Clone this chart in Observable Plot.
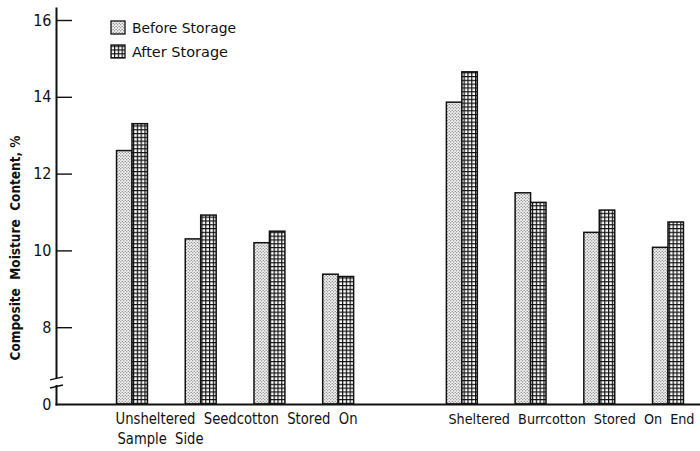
<!DOCTYPE html>
<html><head><meta charset="utf-8">
<script src="https://cdn.jsdelivr.net/npm/d3@7"></script>
<script src="https://cdn.jsdelivr.net/npm/@observablehq/plot@0.6"></script>
<style>
html,body{margin:0;padding:0;background:#fff;}
#chart{position:relative;width:700px;height:451px;}
</style></head><body><div id="chart"></div>
<script>
// ---- data ----
const groups = ["Unsheltered 1","Unsheltered 2","Unsheltered 3","Unsheltered 4","Sheltered 1","Sheltered 2","Sheltered 3","Sheltered 4"];
const beforeStorage = [12.6, 10.3, 10.2, 9.38, 13.86, 11.5, 10.47, 10.08];
const afterStorage  = [13.3, 10.92, 10.5, 9.32, 14.65, 11.25, 11.05, 10.74];
const seriesNames = ["Before Storage", "After Storage"];
const yTicks = [0, 8, 10, 12, 14, 16];
const xLabelLeft = ["Unsheltered  Seedcotton  Stored  On", "Sample  Side"];
const xLabelRight = ["Sheltered  Burrcotton  Stored  On  End"];
const yTitle = "Composite  Moisture  Content, %";

// ---- layout helpers ----
const slot = i => (i < 4 ? i : i + 0.8); // wider gap between the two storage methods
const half = 0.225;
const rows = groups.map((g, i) => ({g, pos: slot(i), before: beforeStorage[i], after: afterStorage[i]}));
const FONT = "'DejaVu Sans Condensed','DejaVu Sans',sans-serif";

const plot = Plot.plot({
  width: 700, height: 451,
  marginLeft: 56, marginRight: 0, marginTop: 8, marginBottom: 47,
  style: {fontFamily: FONT, fontSize: "15px", color: "#111", background: "#fff"},
  x: {type: "linear", domain: [0, 7.8], range: [132, 668], axis: null},
  y: {domain: [6, 16], range: [404, 20], clamp: true, label: null},
  marks: [
    Plot.rect(rows, {x1: d => d.pos - half, x2: d => d.pos, y1: 0, y2: "before",
      fill: "url(#pat-dots)", stroke: "#111", strokeWidth: 1.5}),
    Plot.rect(rows, {x1: d => d.pos, x2: d => d.pos + half, y1: 0, y2: "after",
      fill: "url(#pat-grid)", stroke: "#111", strokeWidth: 1.5}),
    Plot.tickY(yTicks.filter(d => d > 0), {y: d => d, stroke: "#111", strokeWidth: 1.4, insetRight: 700 - 56 - 16}),
    Plot.axisY(yTicks, {tickSize: 0, tickPadding: 5, tickFormat: d => String(d), fontSize: 16, label: null}),
    Plot.frame({anchor: "left", stroke: "#111", strokeWidth: 2}),
    Plot.frame({anchor: "bottom", stroke: "#111", strokeWidth: 2}),
    Plot.text([xLabelLeft[0]], {text: d => d, frameAnchor: "bottom-left", dx: 59, dy: 19, textAnchor: "start", fontSize: 15}),
    Plot.text([xLabelLeft[1]], {text: d => d, frameAnchor: "bottom-left", dx: 61, dy: 39, textAnchor: "start", fontSize: 15}),
    Plot.text([xLabelRight[0]], {text: d => d, frameAnchor: "bottom-left", dx: 392, dy: 19, textAnchor: "start", fontSize: 14}),
    Plot.text([yTitle], {text: d => d, frameAnchor: "left", rotate: -90, dx: -41, dy: 154, textAnchor: "start", fontSize: 14, fontWeight: "bold"})
  ]
});

const svg = d3.select(plot);
const defs = svg.insert("defs", ":first-child");
const pd = defs.append("pattern").attr("id", "pat-dots").attr("patternUnits", "userSpaceOnUse").attr("width", 3).attr("height", 3);
pd.append("rect").attr("width", 3).attr("height", 3).attr("fill", "#f2f2f2");
pd.append("circle").attr("cx", 0.75).attr("cy", 0.75).attr("r", 0.62).attr("fill", "#555");
pd.append("circle").attr("cx", 2.25).attr("cy", 2.25).attr("r", 0.62).attr("fill", "#555");
const pg = defs.append("pattern").attr("id", "pat-grid").attr("patternUnits", "userSpaceOnUse").attr("width", 3.8).attr("height", 3.8);
pg.append("rect").attr("width", 3.8).attr("height", 3.8).attr("fill", "#fff");
pg.append("path").attr("d", "M0,0.6H3.8M0.6,0V3.8").attr("stroke", "#111").attr("stroke-width", 1.2);

// stretch lettering to the widths seen in the figure
const fit = (str, len) => svg.selectAll("text")
  .filter(function () { return this.textContent === str; })
  .attr("xml:space", "preserve").style("white-space", "pre")
  .attr("textLength", len).attr("lengthAdjust", "spacingAndGlyphs");
fit(xLabelLeft[0], 242); fit(xLabelLeft[1], 86); fit(xLabelRight[0], 246); fit(yTitle, 225);

// axis break
const ys = plot.scale("y");
const yb1 = ys.apply(6.68), yb2 = ys.apply(6.47);
const brk = svg.append("g");
brk.append("rect").attr("x", 52).attr("y", yb1 + 1).attr("width", 9).attr("height", yb2 - yb1 - 2).attr("fill", "#fff");
brk.append("path").attr("d", `M50,${yb1 + 2}L63,${yb1 - 1}M50,${yb2 + 2}L63,${yb2 - 1}`)
  .attr("stroke", "#111").attr("stroke-width", 1.5).attr("fill", "none");

// legend
const lg = svg.append("g").attr("font-family", FONT).attr("font-size", 14.5).attr("fill", "#111").attr("text-anchor", "start");
seriesNames.forEach((name, i) => {
  const y0 = 21 + i * 24;
  lg.append("rect").attr("x", 111).attr("y", y0).attr("width", 14).attr("height", 13)
    .attr("fill", i ? "url(#pat-grid)" : "url(#pat-dots)").attr("stroke", "#111").attr("stroke-width", 1.3);
  lg.append("text").attr("x", 132).attr("y", y0 + 7).attr("dy", "0.35em").text(name)
    .attr("textLength", i ? 96 : 104).attr("lengthAdjust", "spacingAndGlyphs");
});

document.getElementById("chart").appendChild(plot);
</script>
</body></html>
